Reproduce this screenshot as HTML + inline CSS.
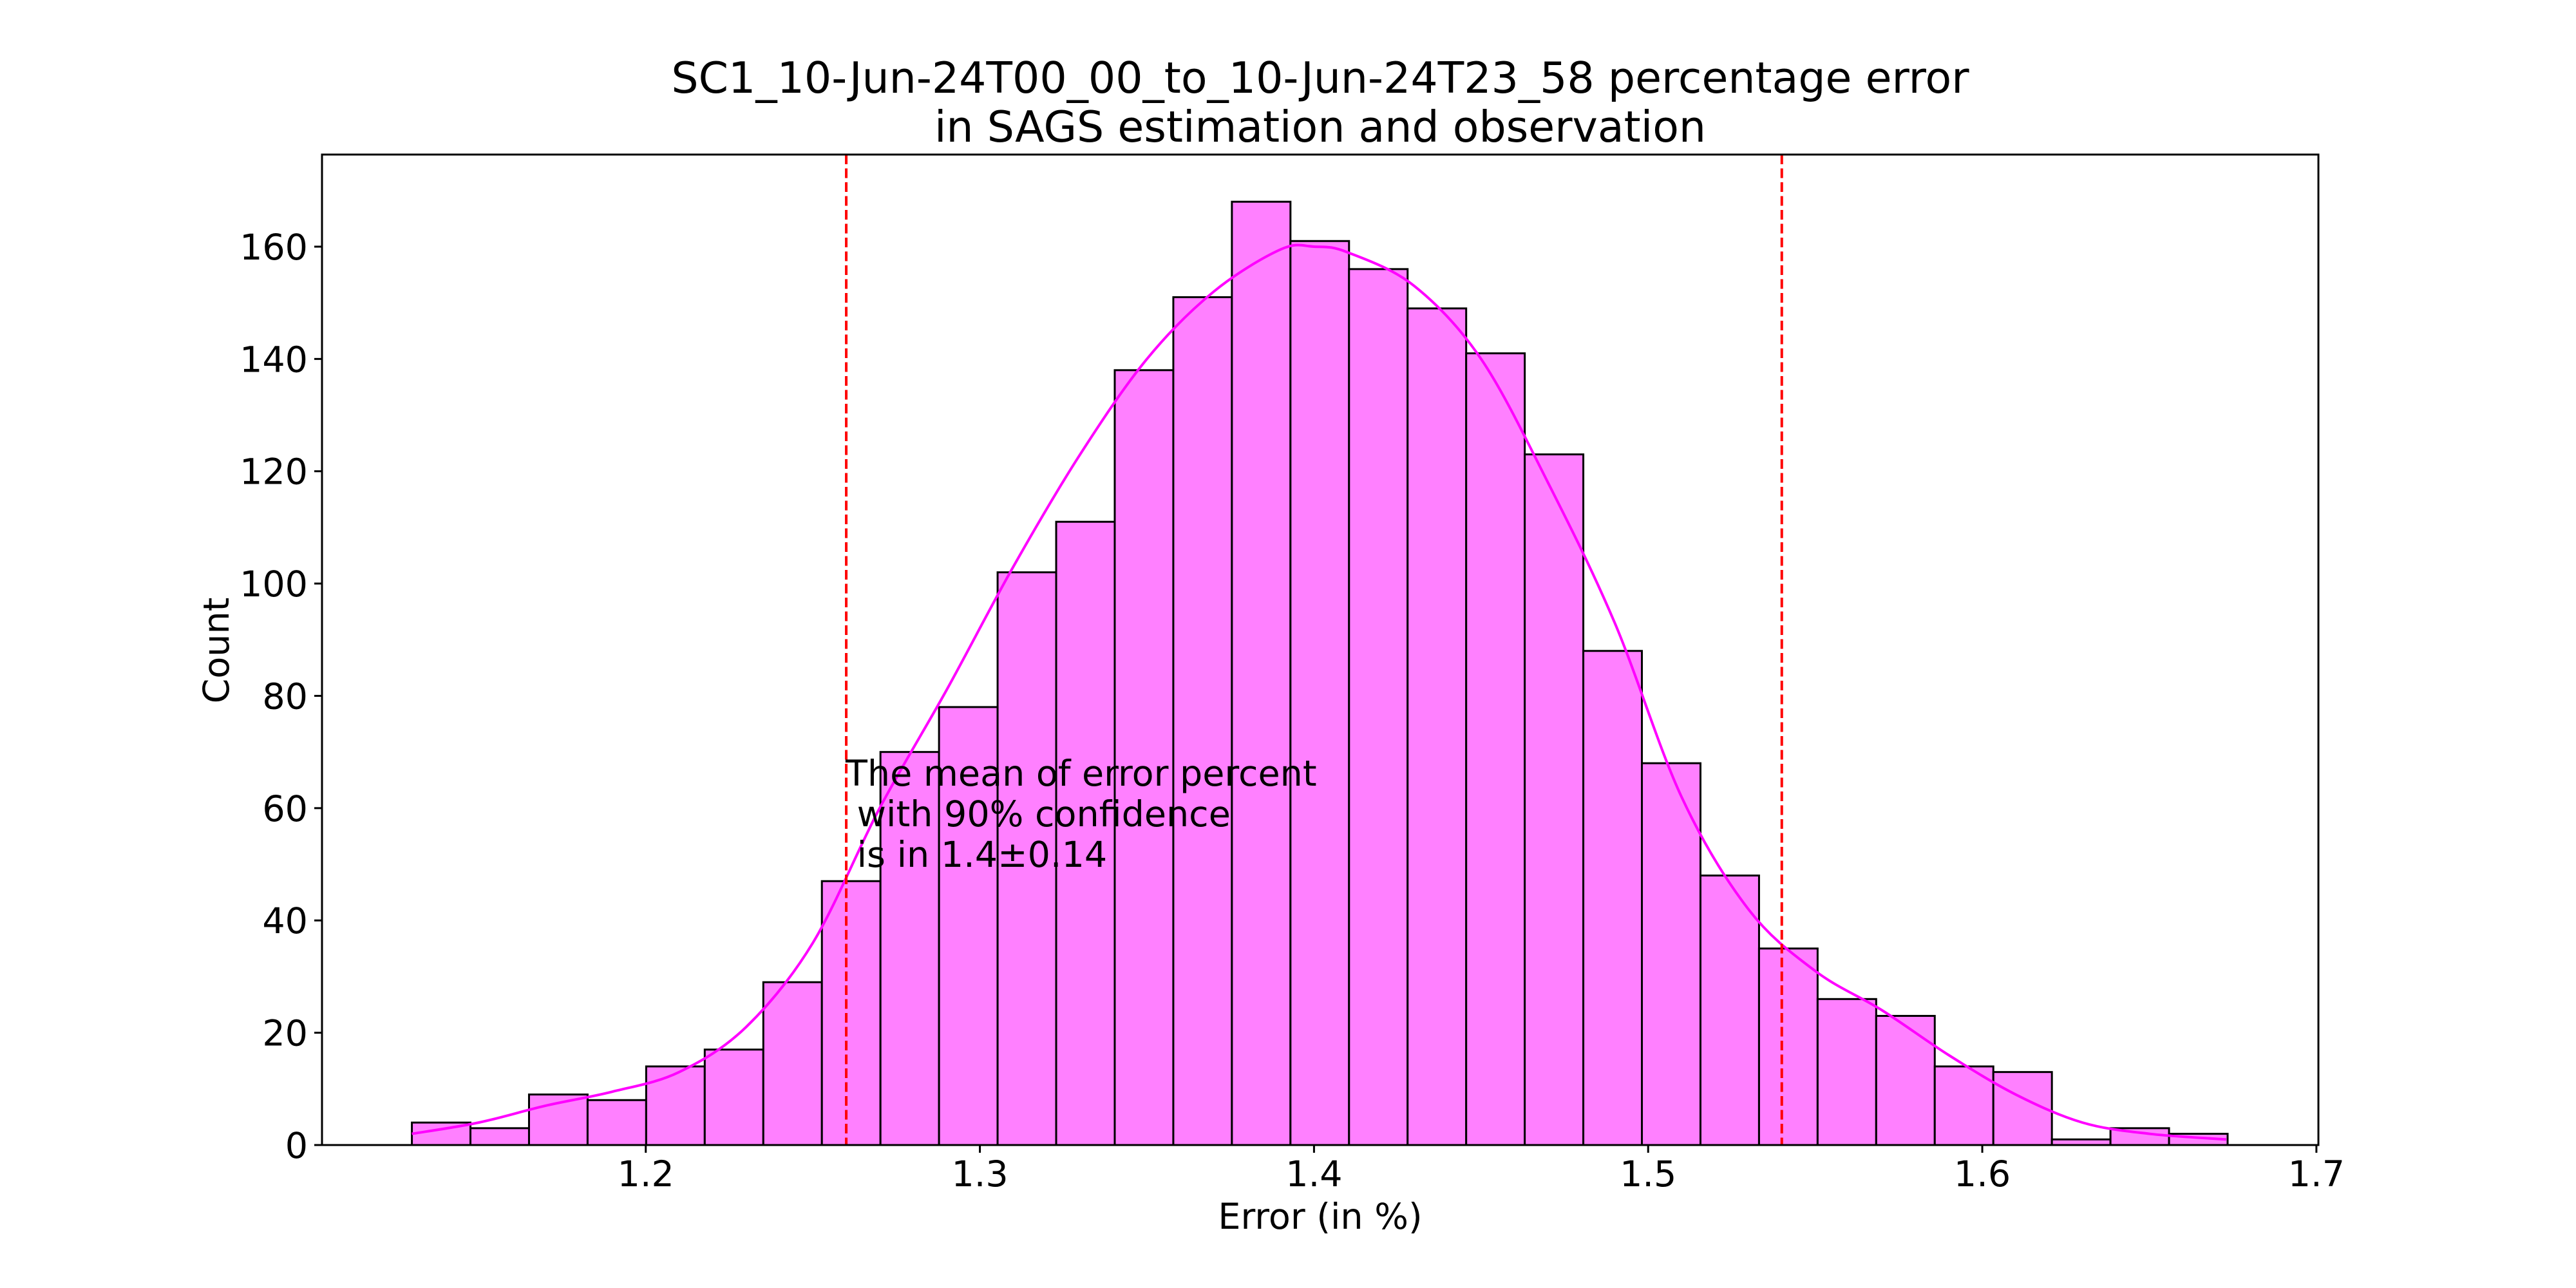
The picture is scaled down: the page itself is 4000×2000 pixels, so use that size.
<!DOCTYPE html>
<html><head><meta charset="utf-8"><style>html,body{margin:0;padding:0;background:#fff}svg{display:block}text{font-family:"DejaVu Sans","Liberation Sans",sans-serif;fill:#000}</style></head>
<body>
<svg id="chart" width="4000" height="2000" viewBox="0 0 4000 2000" xmlns="http://www.w3.org/2000/svg">
<rect x="0" y="0" width="4000" height="2000" fill="#fff"/>
<text x="2050" y="144" font-size="66.5" text-anchor="middle">SC1_10-Jun-24T00_00_to_10-Jun-24T23_58 percentage error</text>
<text x="2050" y="220" font-size="66.5" text-anchor="middle">in SAGS estimation and observation</text>
<g id="bars"></g>
<g id="kde"></g>
<g id="vlines"></g>
<g id="axes"></g>
<g font-size="55.5">
<text x="1313" y="1220">The mean of error percent</text>
<text x="1313" y="1283" xml:space="preserve"> with 90% confidence</text>
<text x="1313" y="1346" xml:space="preserve"> is in 1.4±0.14</text>
</g>
<text x="2050" y="1908" font-size="55.5" text-anchor="middle">Error (in %)</text>
<text x="0" y="0" font-size="55.5" text-anchor="middle" transform="translate(355,1010) rotate(-90)">Count</text>
</svg>
<script>
const counts = [4,3,9,8,14,17,29,47,70,78,102,111,138,151,168,161,156,149,141,123,88,68,48,35,26,23,14,13,1,3,2];
const binStart = 1.130;
const binWidth = 0.01753;
const kdeX = [1.13,1.15,1.17,1.19,1.21,1.23,1.25,1.27,1.29,1.31,1.33,1.35,1.37,1.39,1.40,1.41,1.43,1.45,1.47,1.49,1.51,1.53,1.55,1.57,1.59,1.61,1.63,1.65,1.673];
const kdeY = [2,4,7,9.5,13,21,36,60,81,103,123,140,152,159.5,160,159,153,140,118,93,62,42,31,24,16,9,4,2,1];
const xTicks = [1.2,1.3,1.4,1.5,1.6,1.7];
const yTicks = [0,20,40,60,80,100,120,140,160];
const vLines = [1.26,1.54];

const L=500,R=3600,T=240,B=1778;
const xMin=1.1031,xMax=1.7006,yMin=0,yMax=176.4;
const X=v=>L+(v-xMin)/(xMax-xMin)*(R-L);
const Y=v=>B-(v-yMin)/(yMax-yMin)*(B-T);
const NS="http://www.w3.org/2000/svg";
function mk(tag,attrs,parent){const e=document.createElementNS(NS,tag);for(const k in attrs)e.setAttribute(k,attrs[k]);parent.appendChild(e);return e;}

const gb=document.getElementById('bars');
counts.forEach((c,i)=>{
  const x0=X(binStart+i*binWidth),x1=X(binStart+(i+1)*binWidth);
  const r=mk('rect',{x:x0,y:Y(c),width:x1-x0,height:Y(0)-Y(c),fill:'#ff80ff',stroke:'#000','stroke-width':3},gb);
  
  
});

const pts=kdeX.map((x,i)=>[X(x),Y(kdeY[i])]);
let d='M'+pts[0][0]+','+pts[0][1];
for(let i=0;i<pts.length-1;i++){
  const p0=pts[Math.max(0,i-1)],p1=pts[i],p2=pts[i+1],p3=pts[Math.min(pts.length-1,i+2)];
  const c1=[p1[0]+(p2[0]-p0[0])/6,p1[1]+(p2[1]-p0[1])/6];
  const c2=[p2[0]-(p3[0]-p1[0])/6,p2[1]-(p3[1]-p1[1])/6];
  d+=' C'+c1+' '+c2+' '+p2;
}
const kp=mk('path',{d:d,fill:'none',stroke:'#ff00ff','stroke-width':4},document.getElementById('kde'));



const gv=document.getElementById('vlines');
vLines.forEach(v=>{
  const l=mk('line',{x1:X(v),x2:X(v),y1:T,y2:B,stroke:'#ff0000','stroke-width':4,'stroke-dasharray':'15,6.5'},gv);
  
  
});

const ga=document.getElementById('axes');
const fr=mk('rect',{x:L,y:T,width:R-L,height:B-T,fill:'none',stroke:'#000','stroke-width':3},ga);


xTicks.forEach(v=>{
  const x=X(v);
  const tk=mk('line',{x1:x,x2:x,y1:B,y2:B+12,stroke:'#000','stroke-width':3},ga);
  
  
  const t=mk('text',{x:x,y:1842,'font-size':55.5,'text-anchor':'middle'},ga);
  t.textContent=v.toFixed(1);
  
  
});
yTicks.forEach(v=>{
  const y=Y(v);
  const tk=mk('line',{x1:L-12,x2:L,y1:y,y2:y,stroke:'#000','stroke-width':3},ga);
  
  
  const t=mk('text',{x:L-22,y:y+20,'font-size':55.5,'text-anchor':'end'},ga);
  t.textContent=String(v);
  
  
});
</script>
</body></html>
